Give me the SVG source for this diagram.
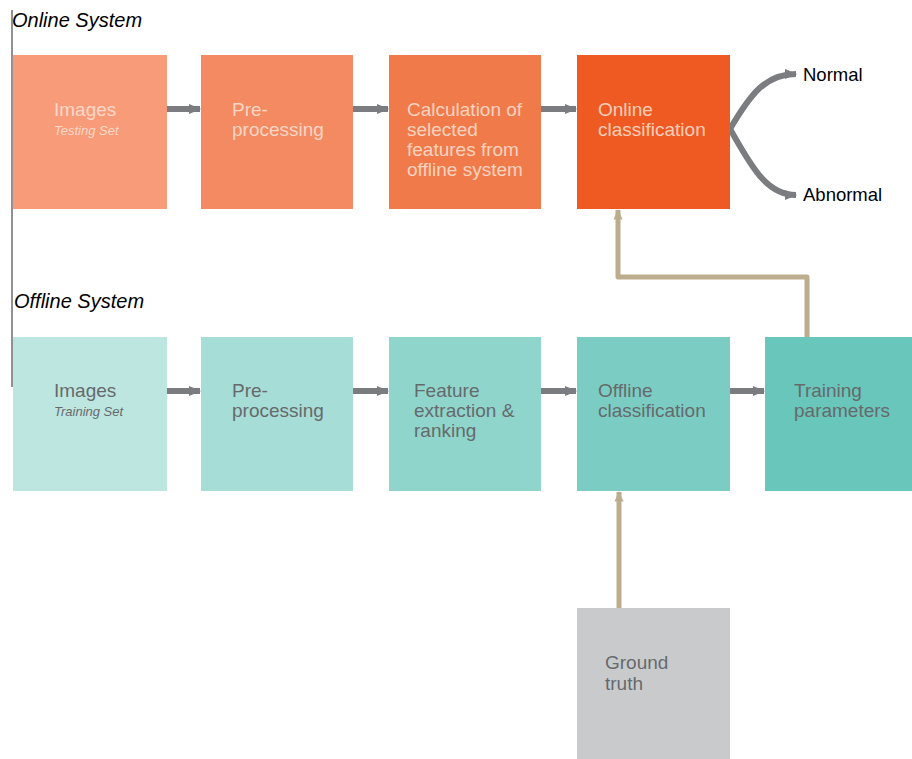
<svg xmlns="http://www.w3.org/2000/svg" width="912" height="759" viewBox="0 0 912 759">
<style>
.t{font-family:"Liberation Sans",Arial,sans-serif;font-size:19px}
.on{fill:#fde3d8;fill-opacity:0.85}
.off{fill:#666a6c}
.sub{font-family:"Liberation Sans",Arial,sans-serif;font-size:13px;font-style:italic}
.title{font-family:"Liberation Sans",Arial,sans-serif;font-size:20px;font-style:italic;fill:#000}
.lbl{font-family:"Liberation Sans",Arial,sans-serif;font-size:18.5px;fill:#000}
.ga{stroke:#7a7c80;stroke-width:6;fill:none}
.ta{stroke:#bcad8e;stroke-width:5;fill:none;stroke-linejoin:round}
</style>
<defs>
<marker id="gh" markerWidth="2.2" markerHeight="2" refX="1.9" refY="1" orient="auto" markerUnits="strokeWidth"><path d="M0,0.15 L2.1,1 L0,1.85 Z" fill="#7a7c80"/></marker>
<marker id="th" markerWidth="2.2" markerHeight="2" refX="1.9" refY="1" orient="auto" markerUnits="strokeWidth"><path d="M0,0.1 L2.1,1 L0,1.9 Z" fill="#bcad8e"/></marker>
</defs>
<rect width="912" height="759" fill="#fff"/>
<line x1="12" y1="10" x2="12" y2="387" stroke="#6d6d6d" stroke-width="1.5"/>
<text class="title" x="12" y="27">Online System</text>
<text class="title" x="14" y="308">Offline System</text>

<g id="connectors">
<line class="ga" x1="167" y1="109" x2="200" y2="109" marker-end="url(#gh)"/>
<line class="ga" x1="353" y1="109" x2="388" y2="109" marker-end="url(#gh)"/>
<line class="ga" x1="541" y1="109" x2="576" y2="109" marker-end="url(#gh)"/>
<line class="ga" x1="167" y1="391" x2="200" y2="391" marker-end="url(#gh)"/>
<line class="ga" x1="353" y1="391" x2="388" y2="391" marker-end="url(#gh)"/>
<line class="ga" x1="541" y1="391" x2="576" y2="391" marker-end="url(#gh)"/>
<line class="ga" x1="730" y1="391" x2="764" y2="391" marker-end="url(#gh)"/>
<path class="ga" d="M730,129 C750,95 765,74 796,74" marker-end="url(#gh)"/>
<path class="ga" d="M730,129 C750,163 765,195 796,195" marker-end="url(#gh)"/>
<path class="ta" d="M807,337 L807,277 L618,277 L618,210" marker-end="url(#th)"/>
<line class="ta" x1="619" y1="608" x2="619" y2="492" marker-end="url(#th)"/>
</g>

<g id="online-images"><rect x="13" y="55" width="154" height="154" fill="#f79b79"/><text class="t on" x="54" y="116">Images</text><text class="sub on" x="54" y="135">Testing Set</text></g>
<g id="online-preprocessing"><rect x="201" y="55" width="152" height="154" fill="#f38a62"/><text class="t on" x="232" y="116">Pre-</text><text class="t on" x="232" y="136">processing</text></g>
<g id="online-calculation"><rect x="389" y="55" width="152" height="154" fill="#f07a4a"/><text class="t on" x="407" y="116">Calculation of</text><text class="t on" x="407" y="136">selected</text><text class="t on" x="407" y="156">features from</text><text class="t on" x="407" y="176">offline system</text></g>
<g id="online-classification"><rect x="577" y="55" width="153" height="154" fill="#ef5a22"/><text class="t on" x="598" y="116">Online</text><text class="t on" x="598" y="136">classification</text></g>
<g id="normal"><text class="lbl" x="803" y="81">Normal</text></g>
<g id="abnormal"><text class="lbl" x="803" y="201">Abnormal</text></g>

<g id="offline-images"><rect x="13" y="337" width="154" height="154" fill="#bde6e1"/><text class="t off" x="54" y="397">Images</text><text class="sub off" x="54" y="416">Training Set</text></g>
<g id="offline-preprocessing"><rect x="201" y="337" width="152" height="154" fill="#a6ddd6"/><text class="t off" x="232" y="397">Pre-</text><text class="t off" x="232" y="417">processing</text></g>
<g id="feature-extraction"><rect x="389" y="337" width="152" height="154" fill="#90d5cb"/><text class="t off" x="414" y="397">Feature</text><text class="t off" x="414" y="417">extraction &amp;</text><text class="t off" x="414" y="437">ranking</text></g>
<g id="offline-classification"><rect x="577" y="337" width="153" height="154" fill="#7bcdc3"/><text class="t off" x="598" y="397">Offline</text><text class="t off" x="598" y="417">classification</text></g>
<g id="training-parameters"><rect x="765" y="337" width="147" height="154" fill="#69c6ba"/><text class="t off" x="794" y="397">Training</text><text class="t off" x="794" y="417">parameters</text></g>
<g id="ground-truth"><rect x="577" y="608" width="153" height="151" fill="#c9cacc"/><text class="t off" x="605" y="669">Ground</text><text class="t off" x="605" y="690">truth</text></g>
</svg>
